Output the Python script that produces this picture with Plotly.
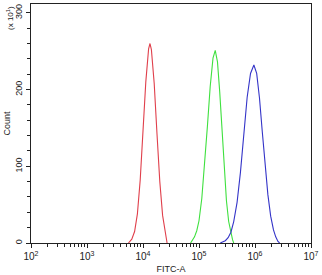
import plotly.graph_objects as go

# log10(FITC-A) positions and counts (x10^1)
red_logx = [3.74, 3.77, 3.80, 3.85, 3.90, 3.95, 4.00, 4.05, 4.10, 4.125, 4.15, 4.20, 4.25, 4.30, 4.35, 4.40, 4.43]
red_count = [0, 2, 5, 15, 38, 82, 145, 210, 253, 260, 252, 208, 142, 80, 36, 12, 0]

green_logx = [4.85, 4.88, 4.92, 4.96, 5.00, 5.05, 5.10, 5.15, 5.20, 5.25, 5.29, 5.33, 5.37, 5.41, 5.45, 5.49, 5.53, 5.57, 5.60, 5.62]
green_count = [0, 3, 8, 16, 29, 58, 100, 152, 204, 241, 251, 236, 197, 146, 95, 55, 28, 13, 4, 0]

blue_logx = [5.38, 5.42, 5.47, 5.52, 5.57, 5.62, 5.68, 5.74, 5.80, 5.86, 5.92, 5.98, 6.03, 6.08, 6.13, 6.18, 6.23, 6.28, 6.33, 6.37, 6.41, 6.44]
blue_count = [0, 1, 3, 7, 14, 28, 53, 92, 140, 190, 221, 232, 221, 189, 145, 101, 63, 35, 17, 8, 2, 0]

x_tickvals = [1e2, 1e3, 1e4, 1e5, 1e6, 1e7]
x_ticktext = ["10<sup>2</sup>", "10<sup>3</sup>", "10<sup>4</sup>", "10<sup>5</sup>", "10<sup>6</sup>", "10<sup>7</sup>"]
y_tickvals = [0, 100, 200, 300]
y_ticktext = ["0", "100", "200", "300"]

series = [
    (red_logx, red_count, "#e0404c"),
    (green_logx, green_count, "#3fe03f"),
    (blue_logx, blue_count, "#3434c8"),
]

fig = go.Figure()
for lx, cnt, col in series:
    fig.add_trace(go.Scatter(
        x=[10 ** v for v in lx], y=cnt, mode="lines",
        line=dict(color=col, width=1.1), showlegend=False, hoverinfo="skip",
    ))

minor_vals = [m * 10 ** d for d in range(2, 7) for m in range(2, 10)]

font = "Liberation Sans, Arial, sans-serif"
fig.update_layout(
    width=322, height=275,
    margin=dict(l=31, r=11, t=3, b=29),
    paper_bgcolor="white", plot_bgcolor="white",
    font=dict(family=font, size=9, color="#222"),
    xaxis=dict(
        type="log", range=[2, 7],
        tickvals=x_tickvals, ticktext=x_ticktext,
        ticks="outside", ticklen=4, tickcolor="#222", tickwidth=1,
        minor=dict(tickvals=minor_vals, ticks="outside", ticklen=3, tickcolor="#222", showgrid=False),
        showline=True, linecolor="#222", linewidth=1, mirror=True,
        showgrid=False, zeroline=False,
        tickfont=dict(size=10, color="#222"),
        title=dict(text="FITC-A", font=dict(size=9, color="#222"), standoff=4),
    ),
    yaxis=dict(
        range=[0, 311.5],
        tickvals=y_tickvals, ticktext=y_ticktext, tickangle=-90,
        ticks="outside", ticklen=4, tickcolor="#222",
        minor=dict(dtick=20, ticks="outside", ticklen=3, tickcolor="#222", showgrid=False),
        showline=True, linecolor="#222", linewidth=1, mirror=True,
        showgrid=False, zeroline=False,
        tickfont=dict(size=9, color="#222"),
        title=dict(text="Count", font=dict(size=9, color="#222"), standoff=2),
    ),
    annotations=[dict(
        text="(x 10<sup>1</sup>)", xref="paper", yref="paper",
        x=0, y=1.0, xanchor="center", yanchor="top",
        textangle=-90, showarrow=False, font=dict(size=8, color="#222"),
        xshift=-21,
    )],
)

fig.write_html("out.html")
